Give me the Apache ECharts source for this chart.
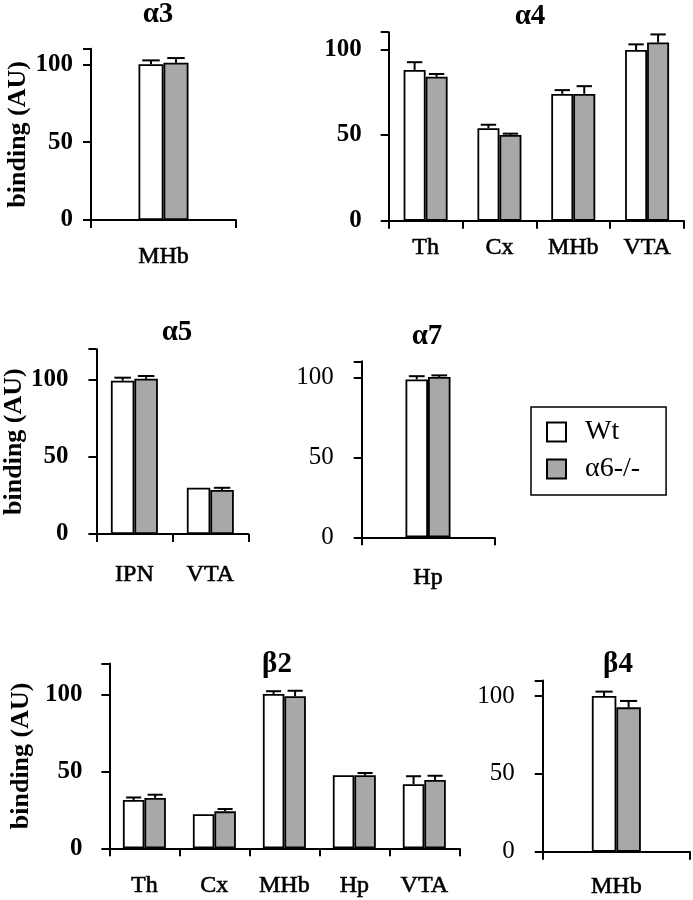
<!DOCTYPE html>
<html>
<head>
<meta charset="utf-8">
<script src="https://cdn.jsdelivr.net/npm/echarts@6/dist/echarts.min.js"></script>
<style>
html,body{margin:0;padding:0;background:#fff;}
#chart{width:693px;height:900px;}
</style>
</head>
<body>
<div id="chart"></div>
<script>
// ---- data ----
const seriesNames = ['Wt', 'α6-/-'];
const yTicks = [0, 50, 100];

const a3Cats = ['MHb'];
const a3Wt = [100];
const a3WtErr = [2.5];
const a3Ko = [101];
const a3KoErr = [3];

const a4Cats = ['Th', 'Cx', 'MHb', 'VTA'];
const a4Wt = [88, 54, 74, 99.6];
const a4WtErr = [4.5, 2, 2.2, 3.3];
const a4Ko = [84, 50, 74, 104];
const a4KoErr = [1.6, 0.8, 4.5, 4.7];

const a5Cats = ['IPN', 'VTA'];
const a5Wt = [99.5, 30];
const a5WtErr = [2, 0];
const a5Ko = [100.8, 28.6];
const a5KoErr = [1.8, 1.4];

const a7Cats = ['Hp'];
const a7Wt = [98.7];
const a7WtErr = [2];
const a7Ko = [100.2];
const a7KoErr = [1];

const b2Cats = ['Th', 'Cx', 'MHb', 'Hp', 'VTA'];
const b2Wt = [31.4, 22.1, 100.2, 47.4, 41.6];
const b2WtErr = [1.6, 0, 1.8, 0, 5.2];
const b2Ko = [32.7, 24, 98.7, 47.4, 44.4];
const b2KoErr = [2.1, 1.5, 3.6, 1.5, 2.7];

const b4Cats = ['MHb'];
const b4Wt = [100];
const b4WtErr = [2.8];
const b4Ko = [92.7];
const b4KoErr = [4.1];

// ---- layout ----
const SERIF = '"Liberation Serif", "Times New Roman", serif';
const panels = [
  {title:'α3', tx:158, ty:15, cats:a3Cats, wt:a3Wt, wtE:a3WtErr, ko:a3Ko, koE:a3KoErr,
   grid:{left:91, top:48.7, width:145, height:171.3}, max:110, bw:25, yName:true, tickBold:true, lm:18, xm:25},
  {title:'α4', tx:530, ty:17, cats:a4Cats, wt:a4Wt, wtE:a4WtErr, ko:a4Ko, koE:a4KoErr,
   grid:{left:388.7, top:32.2, width:295.3, height:188.5}, max:110, bw:22, yName:false, tickBold:true, lm:27, xm:15},
  {title:'α5', tx:177, ty:333, cats:a5Cats, wt:a5Wt, wtE:a5WtErr, ko:a5Ko, koE:a5KoErr,
   grid:{left:90, top:349.2, width:158.3, height:184.8}, max:120, bw:23.5, yName:true, tickBold:true, lm:28, xm:29},
  {title:'α7', tx:427, ty:337, cats:a7Cats, wt:a7Wt, wtE:a7WtErr, ko:a7Ko, koE:a7KoErr,
   grid:{left:361.7, top:361.3, width:132.6, height:176}, max:110, bw:22.5, yName:false, tickBold:false, lm:28, xm:28},
  {title:'β2', tx:277, ty:665, cats:b2Cats, wt:b2Wt, wtE:b2WtErr, ko:b2Ko, koE:b2KoErr,
   grid:{left:89.3, top:663.5, width:370, height:184.8}, max:120, bw:21.5, yName:true, tickBold:true, lm:27, xm:25},
  {title:'β4', tx:618, ty:665, cats:b4Cats, wt:b4Wt, wtE:b4WtErr, ko:b4Ko, koE:b4KoErr,
   grid:{left:542.7, top:680.4, width:147.3, height:171.3}, max:110, bw:24.5, yName:false, tickBold:false, lm:28, xm:23}
];

const grids = [], xAxes = [], yAxes = [], series = [], graphics = [];
const axisLine = {show:true, lineStyle:{color:'#000', width:2}};

function errSeries(i, vals, errs, side, bw) {
  return {
    type:'custom', name:'err'+i+side, xAxisIndex:i, yAxisIndex:i, z:5, silent:true,
    data: vals.map((v, k) => [k, v, errs[k]]),
    renderItem: function(params, api) {
      const e = api.value(2);
      if (!e) return null;
      const k = api.value(0), v = api.value(1);
      const p0 = api.coord([k, v]);
      const p1 = api.coord([k, v + e]);
      const x = p0[0] + side * bw / 2;
      const cap = bw * 0.35;
      return {type:'group', children:[
        {type:'line', shape:{x1:x, y1:p0[1], x2:x, y2:p1[1]}, style:{stroke:'#000', lineWidth:2}},
        {type:'line', shape:{x1:x - cap, y1:p1[1], x2:x + cap, y2:p1[1]}, style:{stroke:'#000', lineWidth:2}}
      ]};
    }
  };
}

panels.forEach((p, i) => {
  grids.push(Object.assign({containLabel:false}, p.grid));
  xAxes.push({
    type:'category', gridIndex:i, data:p.cats,
    axisLine: axisLine,
    axisTick:{show:true, length:8, lineStyle:{color:'#000', width:2}, alignWithLabel:false},
    axisLabel:{color:'#000', fontFamily:SERIF, fontSize:24, fontWeight:'normal', margin:p.xm,
      textBorderColor:'#000', textBorderWidth:0.6},
    splitLine:{show:false}
  });
  yAxes.push({
    type:'value', gridIndex:i, min:0, max:p.max, interval:50,
    axisLine: axisLine,
    axisTick:{show:true, length:8, lineStyle:{color:'#000', width:2}},
    axisLabel:{color:'#000', fontFamily:SERIF, fontSize:25, fontWeight:p.tickBold ? 'bold' : 'normal', margin:p.lm,
      formatter: v => yTicks.indexOf(v) >= 0 ? String(v) : ''},
    splitLine:{show:false},
    name: p.yName ? 'binding (AU)' : '',
    nameLocation:'middle', nameRotate:90, nameGap:58,
    nameTextStyle:{color:'#000', fontFamily:SERIF, fontSize:26, fontWeight:'bold'}
  });
  series.push({
    type:'bar', name:seriesNames[0], xAxisIndex:i, yAxisIndex:i, data:p.wt, barWidth:p.bw, barGap:'0%',
    itemStyle:{color:'#ffffff', borderColor:'#000', borderWidth:1.8}, silent:true
  });
  series.push({
    type:'bar', name:seriesNames[1], xAxisIndex:i, yAxisIndex:i, data:p.ko, barWidth:p.bw, barGap:'0%',
    itemStyle:{color:'#a8a8a8', borderColor:'#000', borderWidth:1.8}, silent:true
  });
  series.push(errSeries(i, p.wt, p.wtE, -1, p.bw));
  series.push(errSeries(i, p.ko, p.koE, 1, p.bw));
  graphics.push({
    type:'text', x:p.tx, y:p.ty,
    style:{text:p.title, fill:'#000', font:'bold 29px ' + SERIF, textAlign:'center', textVerticalAlign:'middle'}
  });
});

const chart = echarts.init(document.getElementById('chart'), null, {renderer:'canvas'});
chart.setOption({
  backgroundColor:'#ffffff',
  animation:false,
  grid:grids, xAxis:xAxes, yAxis:yAxes, series:series,
  graphic:graphics,
  legend:{
    data:seriesNames, orient:'vertical', left:531, top:407,
    itemWidth:19, itemHeight:19, itemGap:9,
    padding:[11, 26, 12, 15],
    borderColor:'#000', borderWidth:1.5,
    textStyle:{color:'#000', fontFamily:SERIF, fontSize:28, padding:[0,0,0,14]},
    icon:'rect', selectedMode:false
  }
});
</script>
</body>
</html>
